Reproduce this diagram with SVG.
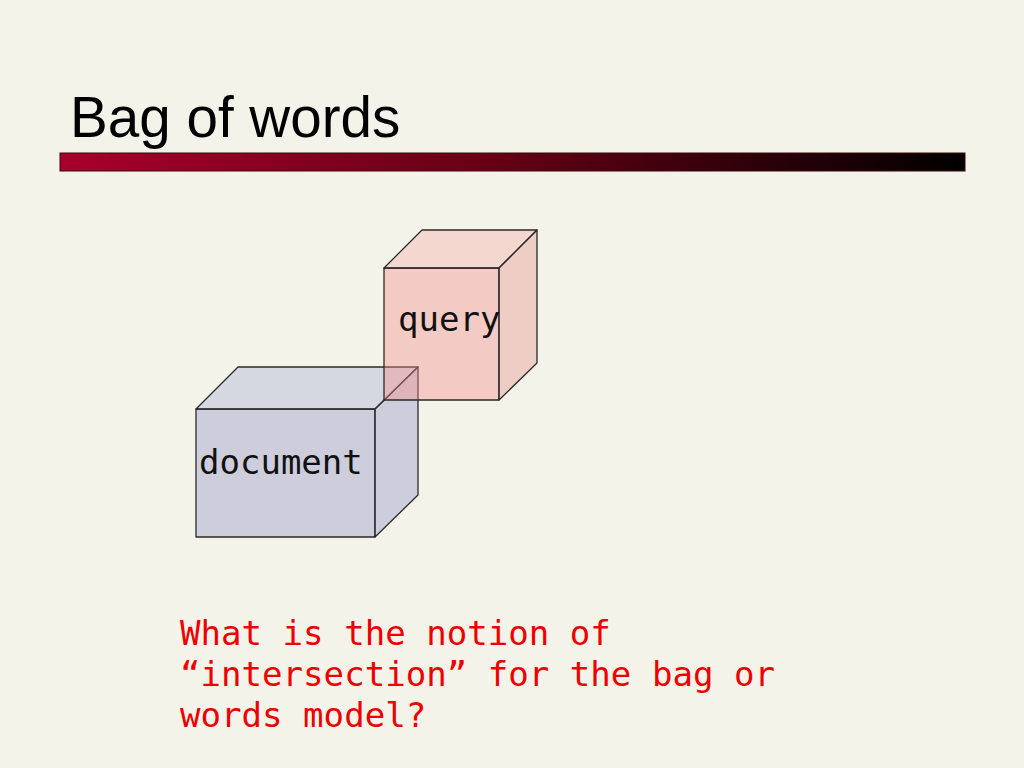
<svg xmlns="http://www.w3.org/2000/svg" width="1024" height="768" viewBox="0 0 1024 768">
<defs>
<linearGradient id="bar" x1="0" y1="0" x2="1" y2="0">
<stop offset="0" stop-color="#a8002a"/>
<stop offset="0.5" stop-color="#620014"/>
<stop offset="1" stop-color="#000000"/>
</linearGradient>
<style>
.edge{stroke:#2a2a2a;stroke-width:1.3;stroke-linejoin:round}
.doc{fill-opacity:0.45}
.qry{fill-opacity:0.4}
.lbl{font-family:"DejaVu Sans Mono","Liberation Mono",monospace;font-size:34px;fill:#111}
.q{font-family:"DejaVu Sans Mono","Liberation Mono",monospace;font-size:34.1px;fill:#ee0000}
</style>
</defs>
<rect x="0" y="0" width="1024" height="768" fill="#f4f3ea"/>
<text x="70" y="137" font-family="Liberation Sans, Arial, sans-serif" font-size="56.6" fill="#000">Bag of words</text>
<rect x="60" y="153" width="905" height="18" fill="url(#bar)" stroke="#3a0a10" stroke-width="1"/>
<g id="document">
<polygon class="edge doc" points="196,409 375,409 375,537 196,537" fill="#9d9fcb"/>
<polygon class="edge doc" points="196,409 238,367 418,367 375,409" fill="#afb5d8"/>
<polygon class="edge doc" points="375,409 418,367 418,495 375,537" fill="#9d9fcb"/>
<text class="lbl" x="199" y="474">document</text>
</g>
<g id="query">
<polygon class="edge qry" points="384,268 499,268 499,400 384,400" fill="#f48c8b"/>
<polygon class="edge qry" points="384,268 422,230 537,230 499,268" fill="#f4afa9"/>
<polygon class="edge qry" points="499,268 537,230 537,363 499,400" fill="#e5948d"/>
<text class="lbl" x="398" y="331">query</text>
</g>
<g id="connectors"/>
<g id="question">
<text class="q" x="180" y="645">What is the notion of</text>
<text class="q" x="180" y="686">“intersection” for the bag or</text>
<text class="q" x="180" y="727">words model?</text>
</g>
</svg>
